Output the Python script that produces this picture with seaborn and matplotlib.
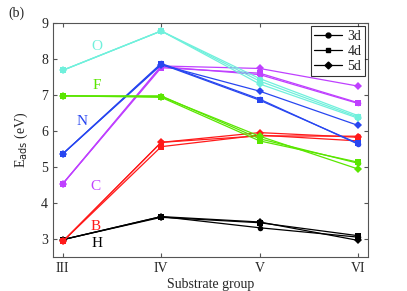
import matplotlib
matplotlib.use("Agg")
import matplotlib.pyplot as plt
from matplotlib.lines import Line2D
import seaborn as sns
import pandas as pd

groups = ["III", "IV", "V", "VI"]
elements = ["H", "B", "C", "N", "O", "F"]
series = ["3d", "4d", "5d"]

# adsorption energies (eV) per element, per series, over groups III..VI
e_H = {"3d": [2.98, 3.62, 3.31, 3.05], "4d": [2.98, 3.60, 3.45, 3.09], "5d": [2.98, 3.62, 3.47, 2.96]}
e_B = {"3d": [2.93, 5.68, 5.86, 5.85], "4d": [2.93, 5.56, 5.88, 5.72], "5d": [2.93, 5.68, 5.95, 5.82]}
e_C = {"3d": [4.53, 7.78, 7.56, 6.76], "4d": [4.53, 7.75, 7.60, 6.78], "5d": [4.53, 7.80, 7.73, 7.24]}
e_N = {"3d": [5.36, 7.87, 6.88, 5.63], "4d": [5.36, 7.85, 6.85, 5.65], "5d": [5.36, 7.83, 7.10, 6.15]}
e_O = {"3d": [7.68, 8.77, 7.45, 6.42], "4d": [7.68, 8.77, 7.38, 6.38], "5d": [7.68, 8.77, 7.30, 6.35]}
e_F = {"3d": [6.97, 6.97, 5.78, 5.10], "4d": [6.97, 6.93, 5.72, 5.13], "5d": [6.97, 6.95, 5.85, 4.94]}

colors = {"H": "black", "B": "#ff1a1a", "C": "#bf40ff", "N": "#2846f0", "O": "#70f0dc", "F": "#5ae600"}
label_pos = {"H": (3.35, 2.88), "B": (3.33, 3.35), "C": (3.33, 4.45),
             "N": (3.2, 6.25), "O": (3.35, 8.35), "F": (3.35, 7.25)}

data = {"H": e_H, "B": e_B, "C": e_C, "N": e_N, "O": e_O, "F": e_F}
rows = []
for el in elements:
    for s in series:
        for i, v in enumerate(data[el][s]):
            rows.append({"element": el, "series": s, "group": i + 3, "E": v})
df = pd.DataFrame(rows)

sns.set_style("ticks")
plt.rcParams["font.family"] = ["Liberation Serif", "DejaVu Serif"]

fig = plt.figure(figsize=(4.07, 2.91), dpi=100)
ax = fig.add_axes([0.130, 0.117, 0.774, 0.805])

markers = {"3d": "o", "4d": "s", "5d": "D"}
sns.lineplot(data=df, x="group", y="E", hue="element", style="series",
             palette=colors, markers=markers, dashes=False,
             markersize=4, markeredgewidth=0, linewidth=0.9,
             estimator=None, sort=False, legend=False, ax=ax)

for el in elements:
    x, y = label_pos[el]
    ax.text(x, y, el, color=colors[el], fontsize=11, ha="center", va="center")

ax.set_xlim(2.9, 6.1)
ax.set_ylim(2.5, 9)
ax.set_xticks([3, 4, 5, 6])
ax.set_xticklabels(groups)
ax.set_yticks([3, 4, 5, 6, 7, 8, 9])
ax.tick_params(direction="in", top=True, right=True, length=3, labelsize=10, color="#555555")
for sp in ax.spines.values():
    sp.set_visible(True)
    sp.set_color("#555555")
    sp.set_linewidth(0.8)

ax.set_xlabel("Substrate group", fontsize=10, labelpad=2)
ax.set_ylabel(r"E$_{\mathrm{ads}}$ (eV)", fontsize=10, labelpad=8)
fig.text(0.02, 0.955, "(b)", fontsize=10, va="center")

handles = [Line2D([], [], color="black", marker=markers[s], markersize=3.5, lw=0.9) for s in series]
leg = ax.legend(handles, series, loc="upper right", fontsize=10, frameon=True, fancybox=False,
                handlelength=2.0, borderpad=0.25, labelspacing=0.15, handletextpad=0.4,
                borderaxespad=0, bbox_to_anchor=(0.99, 0.985))
leg.get_frame().set_edgecolor("black")
leg.get_frame().set_linewidth(0.8)

fig.savefig("out.png", dpi=100)
